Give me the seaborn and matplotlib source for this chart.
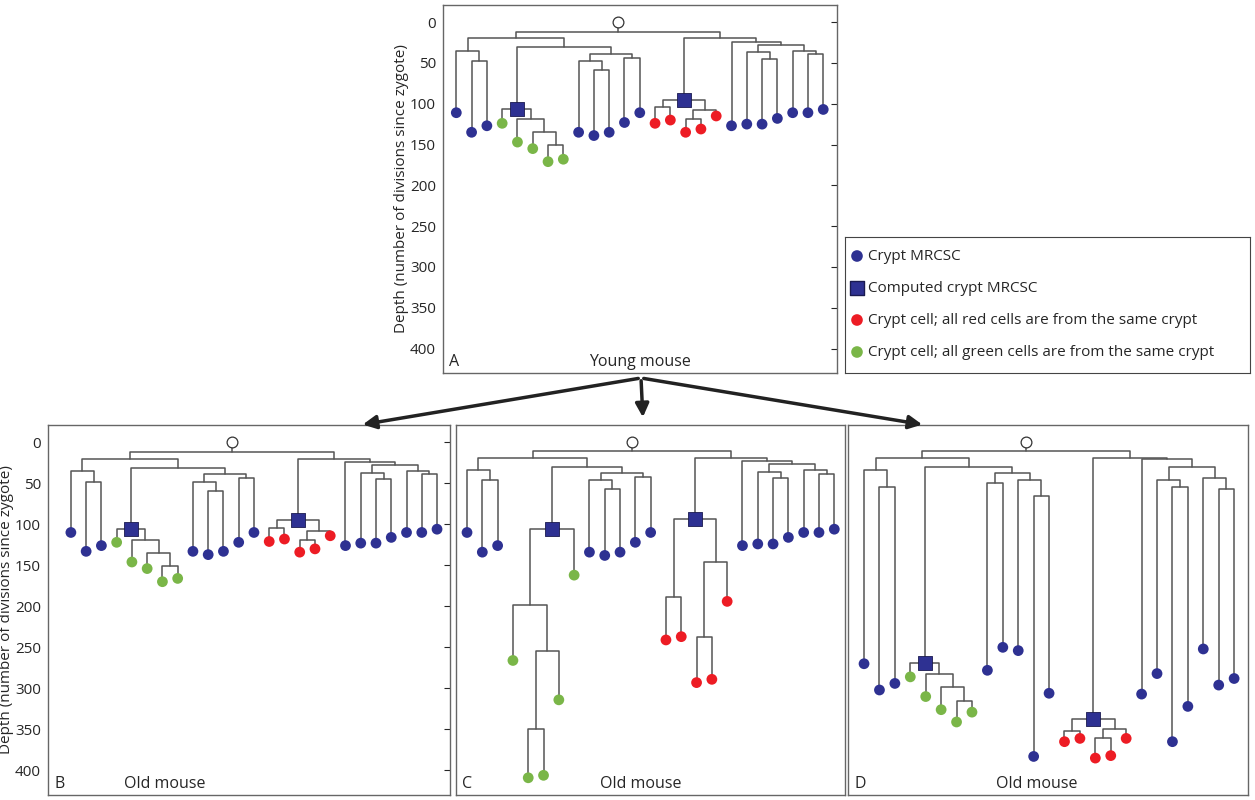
import matplotlib
matplotlib.use("Agg")
import matplotlib.pyplot as plt
import seaborn as sns
import pandas as pd

# trees: internal node = [kind, depth, left, right], leaf = (colour, depth)
tree_a = ['n', 12,
          ['n', 20,
           ['n', 35, ('b', 111), ['n', 48, ('b', 135), ('b', 127)]],
           ['n', 31,
            ['sq', 107, ('g', 124), ['n', 119, ('g', 147), ['n', 135, ('g', 155), ['n', 151, ('g', 171), ('g', 168)]]]],
            ['n', 39, ['n', 48, ('b', 135), ['n', 59, ('b', 139), ('b', 135)]], ['n', 44, ('b', 123), ('b', 111)]]]],
          ['n', 20,
           ['sq', 95, ['n', 104, ('r', 124), ('r', 120)], ['n', 108, ['n', 119, ('r', 135), ('r', 131)], ('r', 115)]],
           ['n', 24, ('b', 127),
            ['n', 28,
             ['n', 37, ('b', 125), ['n', 45, ('b', 125), ('b', 118)]],
             ['n', 35, ('b', 111), ['n', 39, ('b', 111), ('b', 107)]]]]]]

tree_b = ['n', 12,
          ['n', 20,
           ['n', 35, ('b', 110), ['n', 48, ('b', 133), ('b', 126)]],
           ['n', 31,
            ['sq', 106, ('g', 122), ['n', 119, ('g', 146), ['n', 135, ('g', 154), ['n', 151, ('g', 170), ('g', 166)]]]],
            ['n', 39, ['n', 48, ('b', 133), ['n', 59, ('b', 137), ('b', 133)]], ['n', 44, ('b', 122), ('b', 110)]]]],
          ['n', 20,
           ['sq', 95, ['n', 104, ('r', 121), ('r', 118)], ['n', 108, ['n', 119, ('r', 134), ('r', 130)], ('r', 114)]],
           ['n', 24, ('b', 126),
            ['n', 28,
             ['n', 37, ('b', 123), ['n', 45, ('b', 123), ('b', 116)]],
             ['n', 35, ('b', 110), ['n', 39, ('b', 110), ('b', 106)]]]]]]

tree_c = ['n', 11,
          ['n', 19,
           ['n', 34, ('b', 110), ['n', 46, ('b', 134), ('b', 126)]],
           ['n', 30,
            ['sq', 106, ['n', 198, ('g', 266), ['n', 254, ['n', 349, ('g', 409), ('g', 406)], ('g', 314)]], ('g', 162)],
            ['n', 38, ['n', 46, ('b', 134), ['n', 57, ('b', 138), ('b', 134)]], ['n', 42, ('b', 122), ('b', 110)]]]],
          ['n', 19,
           ['sq', 94, ['n', 189, ('r', 241), ('r', 237)], ['n', 146, ['n', 237, ('r', 293), ('r', 289)], ('r', 194)]],
           ['n', 23, ('b', 126),
            ['n', 26,
             ['n', 36, ('b', 124), ['n', 44, ('b', 124), ('b', 116)]],
             ['n', 34, ('b', 110), ['n', 39, ('b', 110), ('b', 106)]]]]]]

tree_d = ['n', 11,
          ['n', 19,
           ['n', 34, ('b', 270), ['n', 54, ('b', 302), ('b', 294)]],
           ['n', 30,
            ['sq', 269, ('g', 286), ['n', 282, ('g', 310), ['n', 298, ('g', 326), ['n', 315, ('g', 341), ('g', 329)]]]],
            ['n', 38, ['n', 50, ('b', 278), ('b', 250)], ['n', 46, ('b', 254), ['n', 65, ('b', 383), ('b', 306)]]]]],
          ['n', 19,
           ['sq', 337, ['n', 352, ('r', 365), ('r', 361)], ['n', 350, ['n', 361, ('r', 385), ('r', 382)], ('r', 361)]],
           ['n', 21, ('b', 307),
            ['n', 30,
             ['n', 46, ('b', 282), ['n', 54, ('b', 365), ('b', 322)]],
             ['n', 44, ('b', 252), ['n', 57, ('b', 296), ('b', 288)]]]]]]

colours = {'b': '#2e3192', 'g': '#7ab648', 'r': '#ed1c24'}
line_col = '#555555'
yticks = list(range(0, 401, 50))
ylabel = 'Depth (number of divisions since zygote)'


def layout(node, leaves, squares, segs):
    # returns x of node; leaves are placed 1, 2, 3 ... left to right
    if isinstance(node, tuple):
        x = len(leaves) + 1
        leaves.append((x, node[1], node[0]))
        return x
    kind, depth, left, right = node
    xl = layout(left, leaves, squares, segs)
    xr = layout(right, leaves, squares, segs)
    segs.append(([xl, xl, xr, xr], [left[1], depth, depth, right[1]]))
    x = (xl + xr) / 2
    if kind == 'sq':
        squares.append((x, depth))
    return x


def draw_tree(ax, tree, xlim, letter, label, label_x, ticks):
    leaves, squares, segs = [], [], []
    xroot = layout(tree, leaves, squares, segs)
    for xs, ys in segs:
        ax.plot(xs, ys, color=line_col, lw=1.1, zorder=1)
    ax.plot([xroot, xroot], [0, tree[1]], color=line_col, lw=1.1, zorder=1)
    df = pd.DataFrame(leaves, columns=['x', 'depth', 'c'])
    sns.scatterplot(data=df, x='x', y='depth', hue='c', palette=colours,
                    s=60, edgecolor='none', legend=False, ax=ax, zorder=3)
    sq = pd.DataFrame(squares, columns=['x', 'depth'])
    sns.scatterplot(data=sq, x='x', y='depth', marker='s', color='#2e3192',
                    s=95, edgecolor='#1a1a50', linewidth=0.6, ax=ax, zorder=4)
    ax.scatter([xroot], [0], s=60, facecolor='white', edgecolor='#333333', lw=0.9, zorder=4)
    ax.set_xlim(*xlim)
    ax.set_ylim(430, -21)
    ax.set_xticks([])
    ax.set_xlabel('')
    if ticks:
        ax.set_yticks(yticks)
        ax.tick_params(axis='y', direction='in', right=True, labelsize=11, length=4, pad=5)
        ax.set_ylabel(ylabel, fontsize=11, labelpad=1)
    else:
        ax.set_yticks([])
        ax.set_ylabel('')
    for s in ax.spines.values():
        s.set_color('#666666')
        s.set_linewidth(1)
    ax.text(0.015, 0.02, letter, transform=ax.transAxes, fontsize=11.5)
    ax.text(label_x, 0.02, label, transform=ax.transAxes, fontsize=11.5)


sns.set_style('white')
plt.rcParams['font.family'] = ['Open Sans', 'DejaVu Sans']
fig = plt.figure(figsize=(12.55, 8), dpi=100)

ax_a = fig.add_axes([443 / 1255, 1 - 373 / 800, 394 / 1255, 368 / 800])
ax_b = fig.add_axes([48 / 1255, 5 / 800, 402 / 1255, 370 / 800])
ax_c = fig.add_axes([456 / 1255, 5 / 800, 389 / 1255, 370 / 800])
ax_d = fig.add_axes([848 / 1255, 5 / 800, 400 / 1255, 370 / 800])

draw_tree(ax_a, tree_a, (0.13, 25.9), 'A', 'Young mouse', 0.37, True)
draw_tree(ax_b, tree_b, (-0.5, 25.85), 'B', 'Old mouse', 0.19, True)
draw_tree(ax_c, tree_c, (0.28, 25.7), 'C', 'Old mouse', 0.37, False)
draw_tree(ax_d, tree_d, (-0.04, 25.9), 'D', 'Old mouse', 0.37, False)

# legend box
ax_l = fig.add_axes([845 / 1255, 1 - 373 / 800, 405 / 1255, 136 / 800])
ax_l.set_xlim(0, 405)
ax_l.set_ylim(136, 0)
ax_l.set_xticks([])
ax_l.set_yticks([])
for s in ax_l.spines.values():
    s.set_color('#444444')
legend_items = [('o', '#2e3192', 'Crypt MRCSC'),
                ('s', '#2e3192', 'Computed crypt MRCSC'),
                ('o', '#ed1c24', 'Crypt cell; all red cells are from the same crypt'),
                ('o', '#7ab648', 'Crypt cell; all green cells are from the same crypt')]
for i, (m, c, t) in enumerate(legend_items):
    yy = 19 + i * 32
    ax_l.scatter([12], [yy], marker=m, color=c, s=70 if m == 'o' else 95,
                 edgecolor='none' if m == 'o' else '#1a1a50')
    ax_l.text(23, yy, t, va='center', fontsize=11)

# arrows from A to the old-mouse panels
for x1, y1 in [(360, 425), (643, 420), (925, 425)]:
    fig.add_artist(matplotlib.patches.FancyArrowPatch(
        (641 / 1255, 1 - 378 / 800), (x1 / 1255, 1 - y1 / 800),
        transform=fig.transFigure, arrowstyle='-|>,head_length=8,head_width=4',
        lw=2.5, color='#222222'))

fig.savefig('out.png', dpi=100)
